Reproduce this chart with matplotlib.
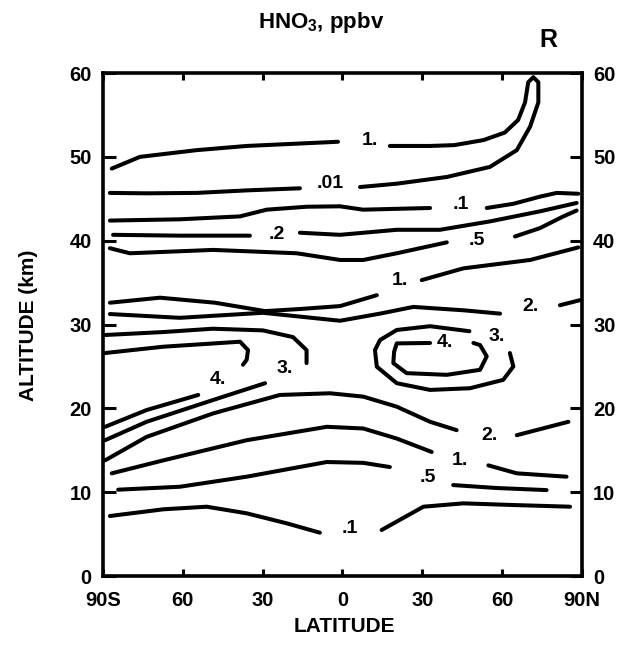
import matplotlib.pyplot as plt

plt.rcParams['font.family'] = ['Liberation Sans', 'DejaVu Sans']
plt.rcParams['font.weight'] = 'bold'
plt.rcParams['mathtext.fontset'] = 'custom'
plt.rcParams['mathtext.rm'] = 'Liberation Sans:bold'
plt.rcParams['mathtext.bf'] = 'Liberation Sans:bold'

# HNO3 mixing ratio isolines, latitude in degrees (south negative), altitude in km
top_01_lat = [-87.4, -73.6, -54.8, -36.0, -16.0]
top_01_alt = [45.7, 45.65, 45.7, 46.0, 46.25]
top_loop_lat = [6.6, 20.4, 39.2, 55.4, 65.5, 70.5, 73.6, 73.6, 71.7, 69.8,
                68.6, 66.0, 61.0, 53.0, 42.0, 32.9, 17.8]
top_loop_alt = [46.4, 46.8, 47.6, 48.8, 50.8, 53.6, 56.5, 58.9, 59.5, 58.9,
                56.5, 54.4, 52.9, 52.0, 51.4, 51.3, 51.3]
top_1_lat = [-86.7, -76.1, -54.8, -36.0, -1.7]
top_1_alt = [48.6, 50.0, 50.8, 51.3, 51.8]

c01_west_lat = [-87.4, -61.1, -38.5, -28.5, -13.5, -0.9, 7.7, 32.9]
c01_west_alt = [42.4, 42.55, 42.9, 43.7, 44.05, 44.1, 43.7, 43.9]
c01_east_lat = [54.2, 64.2, 74.2, 80.5, 88.6]
c01_east_alt = [43.9, 44.4, 45.25, 45.7, 45.6]

c02_west_lat = [-86.2, -61.1, -34.8]
c02_west_alt = [40.7, 40.6, 40.6]
c02_east_lat = [-16.0, -0.9, 20.4, 36.6, 55.4, 74.2, 88.0]
c02_east_alt = [40.95, 40.7, 41.3, 41.3, 42.3, 43.5, 44.5]

c05_west_lat = [-87.4, -79.9, -48.6, -17.2, -0.9, 7.8, 20.4, 39.2]
c05_west_alt = [39.1, 38.5, 38.9, 38.5, 37.7, 37.7, 38.5, 39.8]
c05_east_lat = [64.8, 74.2, 83.0, 88.0]
c05_east_alt = [40.5, 41.5, 42.9, 43.6]

c1_west_lat = [-87.4, -68.6, -47.9, -29.1, -16.0, -0.9, 12.9]
c1_west_alt = [32.6, 33.2, 32.6, 31.6, 31.85, 32.2, 33.5]
c1_east_lat = [29.8, 45.4, 70.5, 88.6]
c1_east_alt = [35.3, 36.7, 37.7, 39.2]

c2_west_lat = [-87.4, -61.1, -29.9, -0.9, 14.1, 26.6, 45.4, 59.2]
c2_west_alt = [31.25, 30.8, 31.4, 30.45, 31.3, 32.1, 31.7, 31.3]
c2_east_lat = [81.7, 89.2]
c2_east_alt = [32.3, 32.9]

s3_upper_lat = [-89.2, -67.5, -48.7, -29.9, -18.6, -13.5, -13.5]
s3_upper_alt = [28.75, 29.1, 29.5, 29.3, 28.5, 26.95, 25.4]
s3_lower_lat = [-29.1, -48.6, -73.6, -89.2]
s3_lower_alt = [23.0, 21.0, 18.4, 16.2]

s4_upper_lat = [-89.2, -67.5, -38.5, -35.5, -36.0, -37.4]
s4_upper_alt = [26.6, 27.35, 27.95, 26.95, 25.8, 25.2]
s4_lower_lat = [-54.2, -73.6, -89.2]
s4_lower_alt = [21.6, 19.8, 17.8]

n3_lat = [47.7, 32.9, 20.4, 14.1, 12.2, 12.9, 20.4, 32.9, 47.9, 60.4, 64.2, 62.9]
n3_alt = [29.2, 29.8, 29.35, 28.15, 26.95, 24.97, 23.0, 22.2, 22.4, 23.4, 25.0, 26.6]
n4_lat = [32.9, 20.4, 19.4, 19.1, 24.1, 39.2, 51.7, 54.2, 51.7, 49.2]
n4_alt = [27.8, 27.75, 26.75, 25.4, 24.2, 24.0, 24.6, 26.2, 27.55, 27.8]

c2_low_west_lat = [-89.2, -73.6, -48.6, -23.5, -4.7, 7.8, 20.4, 32.9, 42.9]
c2_low_west_alt = [13.8, 16.6, 19.4, 21.6, 21.8, 21.4, 20.2, 18.4, 17.4]
c2_low_east_lat = [65.5, 84.9]
c2_low_east_alt = [16.8, 18.4]

c1_low_west_lat = [-86.7, -67.3, -36.0, -5.9, 7.8, 20.4, 33.5]
c1_low_west_alt = [12.25, 13.8, 16.2, 17.8, 17.6, 16.4, 14.8]
c1_low_east_lat = [54.8, 65.5, 84.2]
c1_low_east_alt = [13.2, 12.25, 11.85]

c05_low_west_lat = [-84.3, -61.1, -36.0, -5.9, 7.8, 17.8]
c05_low_west_alt = [10.3, 10.65, 11.85, 13.6, 13.5, 13.0]
c05_low_east_lat = [41.6, 57.9, 76.7]
c05_low_east_alt = [10.85, 10.5, 10.25]

c01_low_west_lat = [-87.4, -67.3, -51.0, -36.0, -21.0, -8.5]
c01_low_west_alt = [7.16, 7.96, 8.27, 7.48, 6.29, 5.17]
c01_low_east_lat = [14.7, 30.4, 45.4, 64.2, 85.5]
c01_low_east_alt = [5.49, 8.27, 8.67, 8.47, 8.27]

# isoline labels
label_text = ['.01', '1.', '.1', '.2', '.5', '1.', '2.', '3.', '4.',
              '4.', '3.', '2.', '1.', '.5', '.1']
label_lat = [-4.7, 10.3, 44.5, -24.6, 50.5, 21.6, 70.5, -21.6, -46.8,
             38.5, 58.1, 55.4, 44.2, 32.1, 2.8]
label_alt = [46.8, 52.0, 44.3, 40.7, 40.0, 35.3, 32.2, 24.8, 23.4,
             27.8, 28.6, 16.8, 13.8, 11.7, 5.7]

lat_ticks = [-90, -60, -30, 0, 30, 60, 90]
lat_tick_labels = ['90S', '60', '30', '0', '30', '60', '90N']
alt_ticks = [0, 10, 20, 30, 40, 50, 60]

segments = [
    (top_01_lat, top_01_alt), (top_loop_lat, top_loop_alt), (top_1_lat, top_1_alt),
    (c01_west_lat, c01_west_alt), (c01_east_lat, c01_east_alt),
    (c02_west_lat, c02_west_alt), (c02_east_lat, c02_east_alt),
    (c05_west_lat, c05_west_alt), (c05_east_lat, c05_east_alt),
    (c1_west_lat, c1_west_alt), (c1_east_lat, c1_east_alt),
    (c2_west_lat, c2_west_alt), (c2_east_lat, c2_east_alt),
    (s3_upper_lat, s3_upper_alt), (s3_lower_lat, s3_lower_alt),
    (s4_upper_lat, s4_upper_alt), (s4_lower_lat, s4_lower_alt),
    (n3_lat, n3_alt), (n4_lat, n4_alt),
    (c2_low_west_lat, c2_low_west_alt), (c2_low_east_lat, c2_low_east_alt),
    (c1_low_west_lat, c1_low_west_alt), (c1_low_east_lat, c1_low_east_alt),
    (c05_low_west_lat, c05_low_west_alt), (c05_low_east_lat, c05_low_east_alt),
    (c01_low_west_lat, c01_low_west_alt), (c01_low_east_lat, c01_low_east_alt),
]

fig = plt.figure(figsize=(6.2, 6.59), dpi=100)
ax = fig.add_axes([0.1661, 0.1259, 0.7726, 0.7633])

for lat, alt in segments:
    ax.plot(lat, alt, color='black', linewidth=2.9, solid_capstyle='round',
            solid_joinstyle='round')

for text, lat, alt in zip(label_text, label_lat, label_alt):
    ax.text(lat, alt, text, ha='center', va='center', fontsize=14, fontweight='bold')

ax.set_xlim(-90, 90)
ax.set_ylim(0, 60)
ax.set_xticks(lat_ticks)
ax.set_xticklabels(lat_tick_labels)
ax.set_yticks(alt_ticks)
for spine in ax.spines.values():
    spine.set_linewidth(2.6)
ax.tick_params(axis='x', direction='in', length=5, width=2.2, top=True,
               labelsize=14.5, pad=11)
ax.tick_params(axis='y', direction='in', length=9, width=2.2, right=True,
               labelright=True, labelsize=14.5, pad=8)

fig.text(0.518, 0.966, r'HNO$_{\mathbf{3}}$, ppbv', ha='center', va='center',
         fontsize=16, fontweight='bold')
fig.text(0.884, 0.940, 'R', ha='center', va='center', fontsize=18, fontweight='bold')
fig.text(0.046, 0.507, 'ALTITUDE (km)', ha='center', va='center', rotation=90,
         fontsize=15, fontweight='bold')
fig.text(0.556, 0.049, 'LATITUDE', ha='center', va='center',
         fontsize=15, fontweight='bold')

fig.savefig('out.png', dpi=100)
